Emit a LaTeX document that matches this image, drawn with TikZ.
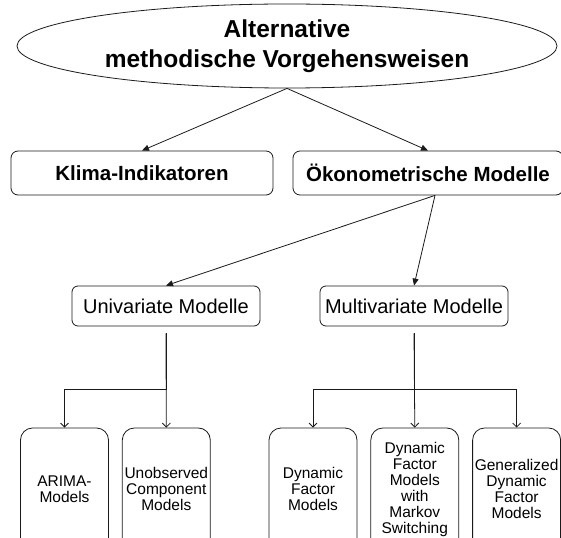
\documentclass[tikz,border=0pt]{standalone}
\usepackage{fontspec}
\setmainfont{Liberation Sans}
\usepackage{xcolor}
\usepackage{tikz}
\usetikzlibrary{shapes.geometric}
\usetikzlibrary{arrows.meta}
\usetikzlibrary{positioning}
\definecolor{lineDark}{HTML}{1A1A1A}
\tikzset{flow-line/.style={line width=0.8pt, color=lineDark}}
\tikzset{>={Triangle[length=7pt,width=6pt]}}
\tikzset{open-tip/.style={-{Straight Barb[length=4pt,width=8pt]}}}
\tikzset{title-node/.style={
    draw=lineDark,
    line width=0.8pt,
    ellipse,
    minimum width=540pt,
    minimum height=84pt,
    inner sep=0,
    align=center,
    font=\fontsize{24.5}{30}\selectfont\bfseries
}}
\tikzset{main-box/.style={draw=lineDark, line width=0.8pt, rounded corners=7pt, minimum height=44pt, inner sep=0, font=\fontsize{20.5}{24}\selectfont\bfseries}}
\tikzset{model-box/.style={draw=lineDark, line width=0.8pt, rounded corners=6pt, minimum width=188pt, minimum height=40pt, inner sep=0, font=\fontsize{20}{24}\selectfont}}
\tikzset{leaf-box/.style={draw=lineDark, line width=0.8pt, rounded corners=12pt, minimum width=88pt, minimum height=122pt, inner sep=1pt, align=center, font=\fontsize{15.5}{16}\selectfont}}

\begin{document}
\begin{tikzpicture}[x=1pt, y=-1pt]
    \useasboundingbox (0,0) rectangle (561,537);
    \clip (0,0) rectangle (561,537);

    \node[title-node] (title) at (287,46) {Alternative\\methodische Vorgehensweisen};
    \node[main-box, minimum width=262pt] (klima) at (142,173) {Klima-Indikatoren};
    \node[main-box, minimum width=270pt] (oeko) at (428,173) {Ökonometrische Modelle};
    \node[model-box] (univ) at (166,306) {Univariate Modelle};
    \node[model-box] (multi) at (414,306) {Multivariate Modelle};

    % leaves
    \node[leaf-box] (arima) at (64.5,489) {ARIMA-\\Models};
    \node[leaf-box, right=13pt of arima] (ucm) {Unobserved\\Component\\Models};
    \node[leaf-box] (dfm) at (313,489) {Dynamic\\Factor\\Models};
    \node[leaf-box, right=13pt of dfm] (dfmms) {Dynamic\\Factor\\Models\\with\\Markov\\Switching};
    \node[leaf-box, right=13pt of dfmms] (gdfm) {Generalized\\Dynamic\\Factor\\Models};

    \draw[->, flow-line] (title.south) -- (klima.north);
    \draw[->, flow-line] (title.south) -- (oeko.north);
    \draw[->, flow-line] ([xshift=7pt]oeko.south) -- (univ.north);
    \draw[->, flow-line] ([xshift=7pt]oeko.south) -- (multi.north);

    \draw[flow-line, open-tip] ([yshift=-7pt]univ.south) -- ++(0,56) -| (arima.north);
    \draw[flow-line, open-tip] ([yshift=-7pt]univ.south) -- (ucm.north);
    \draw[flow-line, open-tip] ([yshift=-7pt]multi.south) -- ++(0,56) -| (dfm.north);
    \draw[flow-line, open-tip] ([yshift=-7pt]multi.south) -- (dfmms.north);
    \draw[flow-line, open-tip] ([yshift=-7pt]multi.south) -- ++(0,56) -| (gdfm.north);
\end{tikzpicture}
\end{document}
